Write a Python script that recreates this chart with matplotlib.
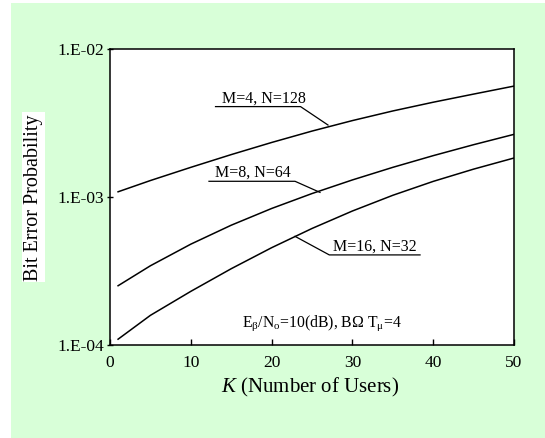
import matplotlib
matplotlib.use("Agg")
import matplotlib.pyplot as plt
from matplotlib.patches import Rectangle
import numpy as np

plt.rcParams['font.family'] = ['Liberation Serif', 'DejaVu Serif']
plt.rcParams['mathtext.fontset'] = 'custom'
plt.rcParams['mathtext.rm'] = 'Liberation Serif'
plt.rcParams['mathtext.it'] = 'Liberation Serif:italic'

# ---- data ----
users = [1, 5, 10, 15, 20, 25, 30, 35, 40, 45, 50]
ber_m4_n128 = [1.076e-3, 1.282e-3, 1.574e-3, 1.919e-3, 2.317e-3, 2.767e-3,
               3.258e-3, 3.784e-3, 4.335e-3, 4.920e-3, 5.572e-3]
ber_m8_n64 = [2.495e-4, 3.404e-4, 4.764e-4, 6.397e-4, 8.298e-4, 1.047e-3,
              1.294e-3, 1.574e-3, 1.888e-3, 2.239e-3, 2.630e-3]
ber_m16_n32 = [1.086e-4, 1.574e-4, 2.286e-4, 3.251e-4, 4.508e-4, 6.081e-4,
               7.980e-4, 1.019e-3, 1.265e-3, 1.531e-3, 1.820e-3]
series_labels = ["M=4, N=128", "M=8, N=64", "M=16, N=32"]
x_ticks = [0, 10, 20, 30, 40, 50]
y_ticks = [1e-4, 1e-3, 1e-2]
y_tick_labels = ["1.E-04", "1.E-03", "1.E-02"]

W, H = 545, 439
fig = plt.figure(figsize=(W / 100, H / 100), dpi=100)
fig.patch.set_facecolor('white')
bg = Rectangle((11 / W, 0), 1 - 11 / W, 1 - 4 / H,
               transform=fig.transFigure, facecolor='#D8FFD8',
               edgecolor='none', zorder=-10)
fig.patches.append(bg)

left, right, top, bottom = 110, 514, 49.5, 345.5
ax = fig.add_axes([left / W, 1 - bottom / H, (right - left) / W, (bottom - top) / H])
ax.set_facecolor('white')

for vals in (ber_m4_n128, ber_m8_n64, ber_m16_n32):
    ax.plot(users, vals, color='black', lw=1.1)

ax.set_yscale('log')
ax.set_xlim(0, 50)
ax.set_ylim(1e-4, 1e-2)
ax.set_xticks(x_ticks)
ax.set_yticks(y_ticks)
ax.set_yticklabels(y_tick_labels)
ax.minorticks_off()
ax.tick_params(axis='x', direction='in', length=4, width=1, pad=7, labelsize=12.5)
ax.tick_params(axis='y', direction='inout', length=5, width=1, pad=2, labelsize=12.5)
for s in ax.spines.values():
    s.set_linewidth(1.1)

# labels with underline and leader lines
fs = 11.5
# M=4
ax.plot([13.06, 23.58, 26.98], [4.05e-3, 4.05e-3, 3.04e-3], color='black', lw=0.9)
ax.text(13.8, 4.13e-3, series_labels[0], fontsize=fs, ha='left', va='bottom')
# M=8
ax.plot([12.25, 22.9, 25.99], [1.267e-3, 1.267e-3, 1.066e-3], color='black', lw=0.9)
ax.text(13.0, 1.29e-3, series_labels[1], fontsize=fs, ha='left', va='bottom')
# M=16
ax.plot([38.37, 27.14, 22.9], [4.03e-4, 4.03e-4, 5.38e-4], color='black', lw=0.9)
ax.text(27.56, 4.11e-4, series_labels[2], fontsize=fs, ha='left', va='bottom')

ax.text(16.3, 1.34e-4,
        r"E$_{\mathrm{β}}$/N$_{\mathrm{o}}$=10(dB), B$\mathrm{Ω}$ T$_{\mathrm{μ}}$=4",
        fontsize=11.3, ha='left', va='baseline')

fig.text(310 / W, 1 - 387.7 / H, r"$\mathit{K}$ (Number of Users)", fontsize=15,
         ha='center', va='center')
fig.text(33.7 / W, 1 - 198 / H, "Bit Error Probability", fontsize=14.5,
         rotation=90, ha='center', va='center',
         bbox=dict(facecolor='white', edgecolor='none', pad=1.5))

fig.savefig("out.png", dpi=100)
